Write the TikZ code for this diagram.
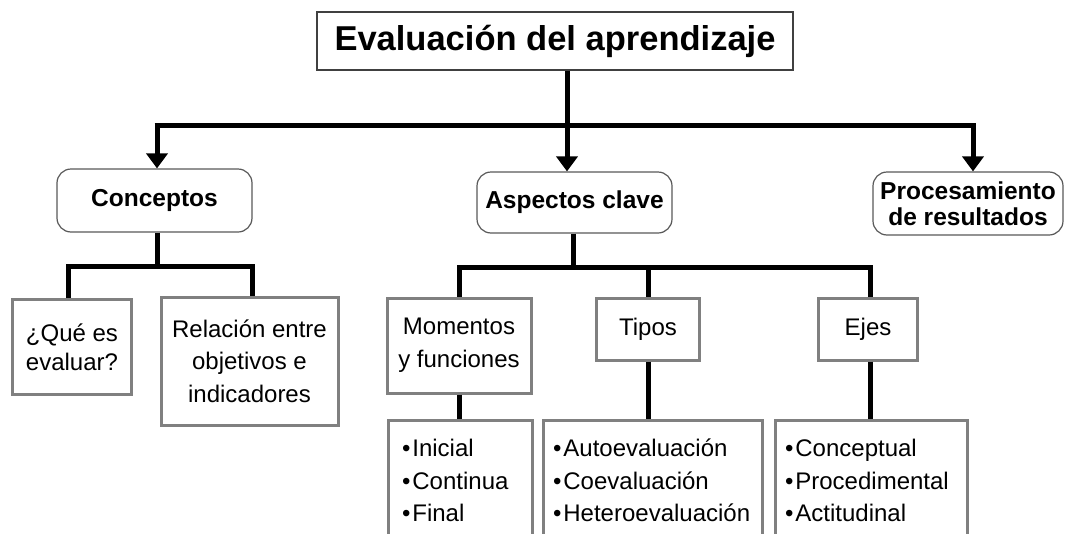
\documentclass[tikz,border=0pt]{standalone}
\usepackage{fontspec}
\setmainfont{Liberation Sans}
\usetikzlibrary{arrows.meta,shadows}
\newcommand{\bul}{\textbullet\kern2pt}
\begin{document}
\begin{tikzpicture}[x=1pt,y=-1pt,
  conn/.style={line width=5pt, black},
  arr/.style={conn, -{Triangle[width=21pt,length=15pt]}},
  titlebox/.style={draw=black!75, line width=1.5pt, fill=white, inner sep=0pt, minimum width=476pt, minimum height=58pt, font=\fontsize{34.5}{36}\selectfont\bfseries},
  rbox/.style={draw=black!65, line width=1.2pt, rounded corners=14pt, fill=white, inner sep=0pt, align=center, font=\fontsize{24.5}{26}\selectfont\bfseries},
  gbox/.style={draw=black!50, line width=3pt, fill=white, inner sep=0pt, align=center, font=\fontsize{24}{32.5}\selectfont, drop shadow={shadow xshift=1.5pt,shadow yshift=-1.5pt,opacity=0.25}},
  lbox/.style={gbox, align=left, minimum height=121pt}
]
\useasboundingbox (0,0) rectangle (1065,533);
\clip (0,0) rectangle (1065,533);

% top
\node[titlebox] (title) at (555,41) {Evaluación del aprendizaje};
\node[rbox, minimum width=195pt, minimum height=63pt] (conc) at (154.5,200.5) {Conceptos};
\node[rbox, minimum width=195pt, minimum height=61pt] (asp) at (574.5,202.5) {Aspectos clave};
\node[rbox, minimum width=190pt, minimum height=63pt] (proc) at (968,203.5) {Procesamiento\\de resultados};

% second level
\node[gbox, minimum width=119pt, minimum height=95pt, font=\fontsize{24}{29}\selectfont] (que) at (72,347) {¿Qué es\\evaluar?};
\node[gbox, minimum width=177pt, minimum height=128pt] (rel) at (249.5,361) {Relación entre\\objetivos e\\indicadores};
\node[gbox, minimum width=144pt, minimum height=95pt, font=\fontsize{24}{33}\selectfont] (mom) at (459,345.5) {Momentos\\y funciones};
\node[gbox, minimum width=103pt, minimum height=62pt] (tipos) at (648,329) {Tipos};
\node[gbox, minimum width=99pt, minimum height=62pt] (ejes) at (868,329) {Ejes};

% lists
\node[lbox, text width=116pt, inner xsep=14pt] (l1) at (460,480.5) {\bul Inicial\\\bul Continua\\\bul Final};
\node[lbox, text width=199pt, inner xsep=10pt] (l2) at (652.5,480.5) {\bul Autoevaluación\\\bul Coevaluación\\\bul Heteroevaluación};
\node[lbox, text width=172pt, inner xsep=10pt] (l3) at (871,480.5) {\bul Conceptual\\\bul Procedimental\\\bul Actitudinal};

% connectors, top
\coordinate (ta) at (567,125);
\coordinate (hl) at (157,125);
\coordinate (hr) at (973,125);
\draw[conn] ([xshift=-2.5pt]hl) -- ([xshift=2.5pt]hr);
\draw[arr] (title.south -| ta) -- (asp.north -| ta);
\draw[arr] (hl) -- (conc.north -| hl);
\draw[arr] (hr) -- (proc.north -| hr);

% Conceptos branch
\coordinate (cb) at (157,266);
\draw[conn] (conc.south -| cb) -- (cb);
\draw[conn, line join=miter] ([xshift=-4pt]que.north) |- (cb) -| ([xshift=2.5pt]rel.north);

% Aspectos branch
\coordinate (ab) at (573,267);
\draw[conn] (asp.south -| ab) -- (ab);
\draw[conn, line join=miter] (mom.north) |- (ab) -| ([xshift=2pt]ejes.north);
\draw[conn] (tipos.north |- ab) -- (tipos.north);

% lists
\draw[conn] (mom.south) -- (mom.south |- l1.north);
\draw[conn] (tipos.south) -- (tipos.south |- l2.north);
\draw[conn] ([xshift=2pt]ejes.south) -- ([xshift=2pt]ejes.south |- l3.north);
\end{tikzpicture}
\end{document}
